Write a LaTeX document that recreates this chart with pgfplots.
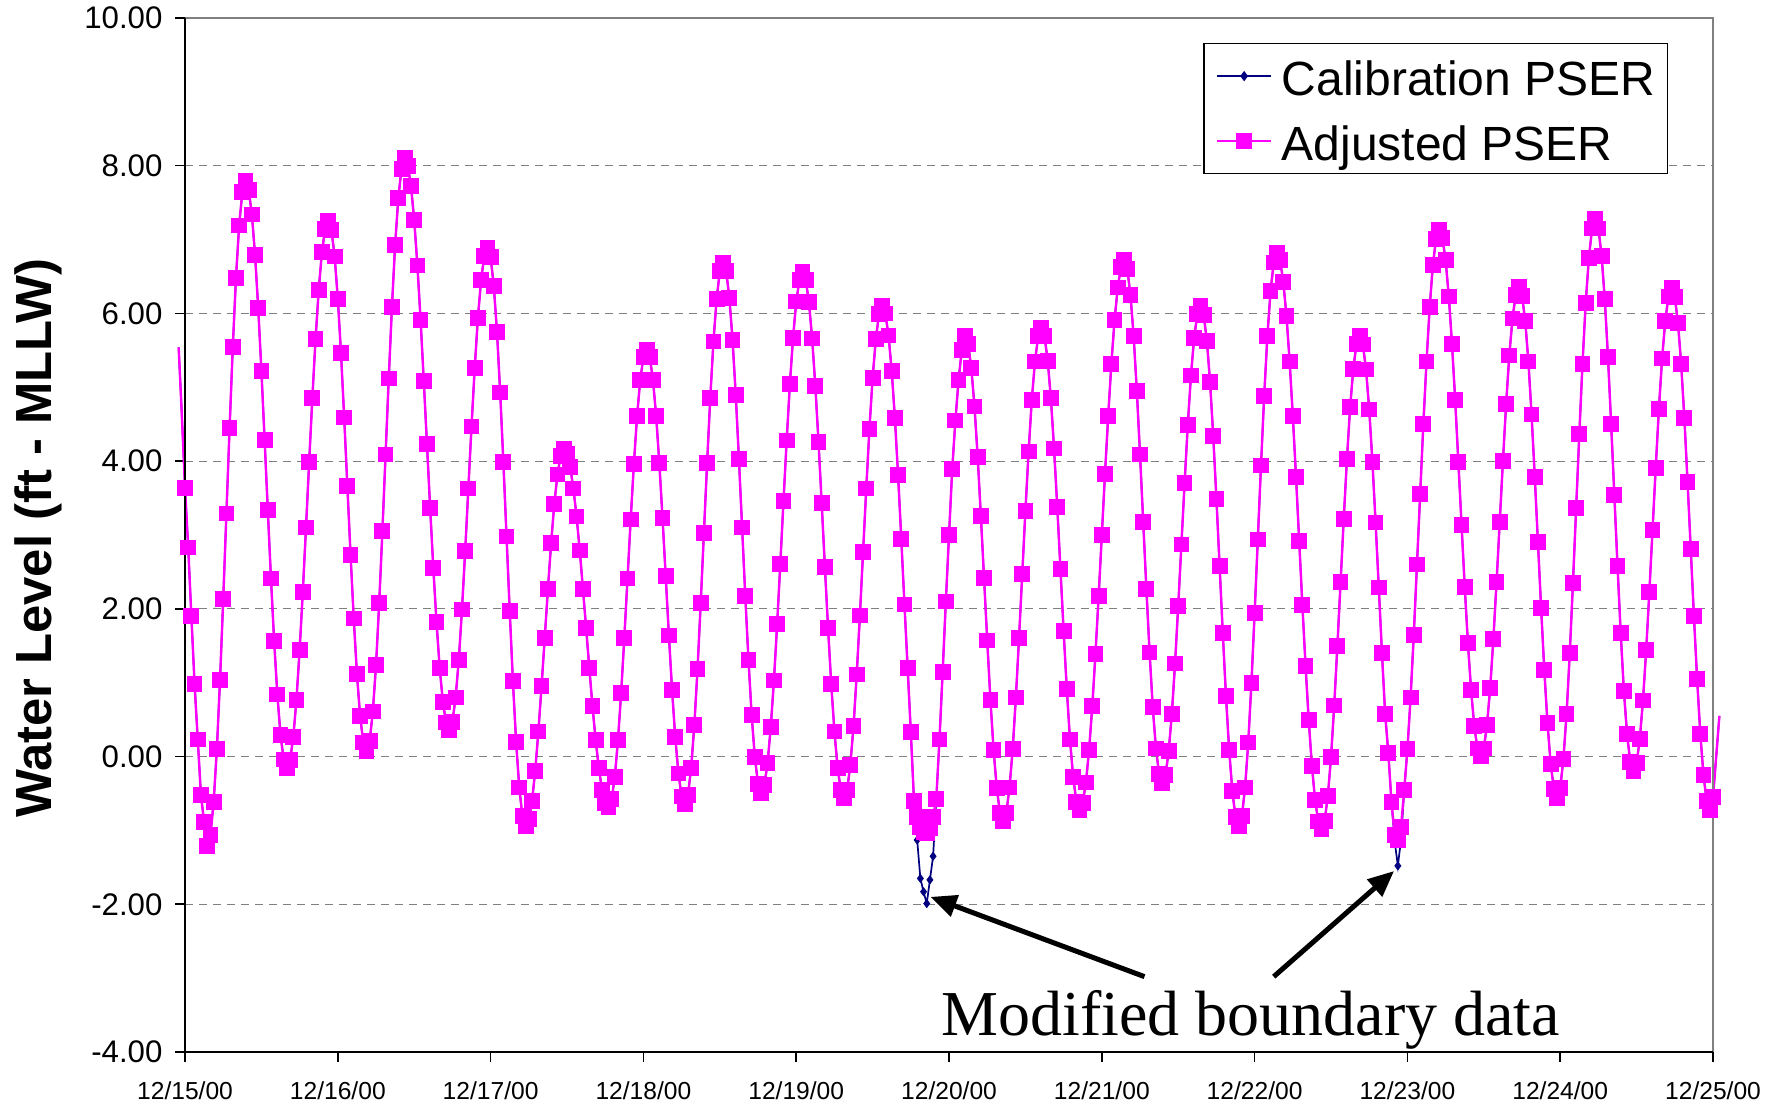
\documentclass[border=0pt]{standalone}
\usepackage{fontspec}
\setmainfont{Liberation Sans}
\newfontfamily\timesfont{Liberation Serif}
\usepackage{pgfplots}
\pgfplotsset{compat=1.18}
\usepackage{pgfplotstable}
\usetikzlibrary{arrows.meta}
\definecolor{pmag}{RGB}{255,0,255}
\definecolor{pnavy}{RGB}{0,0,128}
\pgfplotstableread{
t adj cal
-1 5.54 5.54
-0.5 4.62 4.62
0 3.64 3.64
0.5 2.83 2.83
1 1.90 1.90
1.5 0.98 0.98
2 0.23 0.23
2.5 -0.52 -0.52
3 -0.89 -0.89
3.5 -1.21 -1.21
4 -1.06 -1.06
4.5 -0.61 -0.61
5 0.10 0.10
5.5 1.04 1.04
6 2.13 2.13
6.5 3.29 3.29
7 4.45 4.45
7.5 5.54 5.54
8 6.48 6.48
8.5 7.19 7.19
9 7.64 7.64
9.5 7.79 7.79
10 7.67 7.67
10.5 7.34 7.34
11 6.79 6.79
11.5 6.07 6.07
12 5.22 5.22
12.5 4.29 4.29
13 3.34 3.34
13.5 2.41 2.41
14 1.56 1.56
14.5 0.84 0.84
15 0.29 0.29
15.5 -0.04 -0.04
16 -0.16 -0.16
16.5 -0.05 -0.05
17 0.26 0.26
17.5 0.77 0.77
18 1.44 1.44
18.5 2.23 2.23
19 3.10 3.10
19.5 3.99 3.99
20 4.86 4.86
20.5 5.65 5.65
21 6.32 6.32
21.5 6.83 6.83
22 7.14 7.14
22.5 7.25 7.25
23 7.13 7.13
23.5 6.77 6.77
24 6.20 6.20
24.5 5.46 5.46
25 4.59 4.59
25.5 3.66 3.66
26 2.73 2.73
26.5 1.87 1.87
27 1.12 1.12
27.5 0.55 0.55
28 0.19 0.19
28.5 0.07 0.07
29 0.21 0.21
29.5 0.61 0.61
30 1.24 1.24
30.5 2.08 2.08
31 3.05 3.05
31.5 4.09 4.09
32 5.12 5.12
32.5 6.09 6.09
33 6.93 6.93
33.5 7.56 7.56
34 7.96 7.96
34.5 8.10 8.10
35 8.00 8.00
35.5 7.72 7.72
36 7.26 7.26
36.5 6.65 6.65
37 5.91 5.91
37.5 5.09 5.09
38 4.23 4.23
38.5 3.37 3.37
39 2.55 2.55
39.5 1.82 1.82
40 1.20 1.20
40.5 0.74 0.74
41 0.46 0.46
41.5 0.36 0.36
42 0.47 0.47
42.5 0.80 0.80
43 1.31 1.31
43.5 1.99 1.99
44 2.78 2.78
44.5 3.63 3.63
45 4.47 4.47
45.5 5.26 5.26
46 5.94 5.94
46.5 6.45 6.45
47 6.78 6.78
47.5 6.89 6.89
48 6.76 6.76
48.5 6.37 6.37
49 5.75 5.75
49.5 4.93 4.93
50 3.99 3.99
50.5 2.98 2.98
51 1.97 1.97
51.5 1.02 1.02
52 0.20 0.20
52.5 -0.42 -0.42
53 -0.81 -0.81
53.5 -0.94 -0.94
54 -0.85 -0.85
54.5 -0.60 -0.60
55 -0.20 -0.20
55.5 0.34 0.34
56 0.95 0.95
56.5 1.61 1.61
57 2.27 2.27
57.5 2.89 2.89
58 3.42 3.42
58.5 3.82 3.82
59 4.07 4.07
59.5 4.16 4.16
60 4.10 4.10
60.5 3.92 3.92
61 3.63 3.63
61.5 3.25 3.25
62 2.79 2.79
62.5 2.27 2.27
63 1.74 1.74
63.5 1.20 1.20
64 0.68 0.68
64.5 0.22 0.22
65 -0.16 -0.16
65.5 -0.45 -0.45
66 -0.63 -0.63
66.5 -0.69 -0.69
67 -0.58 -0.58
67.5 -0.28 -0.28
68 0.22 0.22
68.5 0.86 0.86
69 1.61 1.61
69.5 2.41 2.41
70 3.21 3.21
70.5 3.96 3.96
71 4.61 4.61
71.5 5.10 5.10
72 5.41 5.41
72.5 5.51 5.51
73 5.41 5.41
73.5 5.10 5.10
74 4.61 4.61
74.5 3.97 3.97
75 3.23 3.23
75.5 2.44 2.44
76 1.64 1.64
76.5 0.90 0.90
77 0.26 0.26
77.5 -0.23 -0.23
78 -0.54 -0.54
78.5 -0.64 -0.64
79 -0.52 -0.52
79.5 -0.15 -0.15
80 0.43 0.43
80.5 1.19 1.19
81 2.08 2.08
81.5 3.03 3.03
82 3.97 3.97
82.5 4.86 4.86
83 5.62 5.62
83.5 6.20 6.20
84 6.57 6.57
84.5 6.69 6.69
85 6.57 6.57
85.5 6.21 6.21
86 5.64 5.64
86.5 4.90 4.90
87 4.03 4.03
87.5 3.10 3.10
88 2.17 2.17
88.5 1.31 1.31
89 0.56 0.56
89.5 -0.01 -0.01
90 -0.37 -0.37
90.5 -0.49 -0.49
91 -0.38 -0.38
91.5 -0.09 -0.09
92 0.40 0.40
92.5 1.03 1.03
93 1.79 1.79
93.5 2.61 2.61
94 3.46 3.46
94.5 4.28 4.28
95 5.04 5.04
95.5 5.67 5.67
96 6.16 6.16
96.5 6.45 6.45
97 6.56 6.56
97.5 6.45 6.45
98 6.15 6.15
98.5 5.66 5.66
99 5.02 5.02
99.5 4.26 4.26
100 3.43 3.43
100.5 2.57 2.57
101 1.74 1.74
101.5 0.98 0.98
102 0.34 0.34
102.5 -0.15 -0.15
103 -0.45 -0.45
103.5 -0.56 -0.56
104 -0.45 -0.45
104.5 -0.11 -0.11
105 0.41 0.41
105.5 1.11 1.11
106 1.91 1.91
106.5 2.77 2.77
107 3.63 3.63
107.5 4.44 4.44
108 5.13 5.13
108.5 5.65 5.65
109 5.99 5.99
109.5 6.10 6.10
110 6.00 6.00
110.5 5.70 5.70
111 5.22 5.22
111.5 4.58 4.58
112 3.81 3.81
112.5 2.95 2.95
113 2.06 2.06
113.5 1.20 1.20
114 0.33 0.33
114.5 -0.60 -0.60
115 -0.82 -1.13
115.5 -0.95 -1.65
116 -1.02 -1.83
116.5 -1.03 -1.99
117 -0.97 -1.67
117.5 -0.82 -1.35
118 -0.57 -0.57
118.5 0.23 0.23
119 1.15 1.15
119.5 2.10 2.10
120 3.00 3.00
120.5 3.89 3.89
121 4.55 4.55
121.5 5.10 5.10
122 5.50 5.50
122.5 5.70 5.70
123 5.59 5.59
123.5 5.26 5.26
124 4.74 4.74
124.5 4.06 4.06
125 3.26 3.26
125.5 2.42 2.42
126 1.57 1.57
126.5 0.77 0.77
127 0.09 0.09
127.5 -0.43 -0.43
128 -0.76 -0.76
128.5 -0.87 -0.87
129 -0.76 -0.76
129.5 -0.42 -0.42
130 0.10 0.10
130.5 0.80 0.80
131 1.61 1.61
131.5 2.47 2.47
132 3.33 3.33
132.5 4.13 4.13
133 4.83 4.83
133.5 5.35 5.35
134 5.69 5.69
134.5 5.80 5.80
135 5.69 5.69
135.5 5.36 5.36
136 4.85 4.85
136.5 4.17 4.17
137 3.38 3.38
137.5 2.54 2.54
138 1.70 1.70
138.5 0.91 0.91
139 0.23 0.23
139.5 -0.28 -0.28
140 -0.61 -0.61
140.5 -0.72 -0.72
141 -0.63 -0.63
141.5 -0.35 -0.35
142 0.09 0.09
142.5 0.68 0.68
143 1.39 1.39
143.5 2.17 2.17
144 3.00 3.00
144.5 3.83 3.83
145 4.61 4.61
145.5 5.32 5.32
146 5.91 5.91
146.5 6.35 6.35
147 6.63 6.63
147.5 6.72 6.72
148 6.60 6.60
148.5 6.25 6.25
149 5.69 5.69
149.5 4.95 4.95
150 4.09 4.09
150.5 3.18 3.18
151 2.27 2.27
151.5 1.41 1.41
152 0.67 0.67
152.5 0.11 0.11
153 -0.24 -0.24
153.5 -0.36 -0.36
154 -0.25 -0.25
154.5 0.07 0.07
155 0.58 0.58
155.5 1.26 1.26
156 2.04 2.04
156.5 2.87 2.87
157 3.70 3.70
157.5 4.49 4.49
158 5.16 5.16
158.5 5.67 5.67
159 5.99 5.99
159.5 6.10 6.10
160 5.98 5.98
160.5 5.63 5.63
161 5.07 5.07
161.5 4.34 4.34
162 3.49 3.49
162.5 2.58 2.58
163 1.67 1.67
163.5 0.82 0.82
164 0.09 0.09
164.5 -0.47 -0.47
165 -0.82 -0.82
165.5 -0.94 -0.94
166 -0.81 -0.81
166.5 -0.42 -0.42
167 0.19 0.19
167.5 1.00 1.00
168 1.94 1.94
168.5 2.94 2.94
169 3.94 3.94
169.5 4.88 4.88
170 5.69 5.69
170.5 6.30 6.30
171 6.69 6.69
171.5 6.82 6.82
172 6.72 6.72
172.5 6.43 6.43
173 5.97 5.97
173.5 5.35 5.35
174 4.61 4.61
174.5 3.79 3.79
175 2.92 2.92
175.5 2.05 2.05
176 1.23 1.23
176.5 0.49 0.49
177 -0.13 -0.13
177.5 -0.59 -0.59
178 -0.88 -0.88
178.5 -0.98 -0.98
179 -0.87 -0.87
179.5 -0.53 -0.53
180 -0.01 -0.01
180.5 0.69 0.69
181 1.50 1.50
181.5 2.36 2.36
182 3.22 3.22
182.5 4.03 4.03
183 4.73 4.73
183.5 5.25 5.25
184 5.59 5.59
184.5 5.70 5.70
185 5.58 5.58
185.5 5.24 5.24
186 4.70 4.70
186.5 3.99 3.99
187 3.17 3.17
187.5 2.29 2.29
188 1.40 1.40
188.5 0.58 0.58
189 0.05 0.05
189.5 -0.62 -0.62
190 -1.06 -1.15
190.5 -1.13 -1.48
191 -0.95 -1.12
191.5 -0.45 -0.45
192 0.10 0.10
192.5 0.80 0.80
193 1.65 1.65
193.5 2.60 2.60
194 3.55 3.55
194.5 4.50 4.50
195 5.35 5.35
195.5 6.09 6.09
196 6.66 6.66
196.5 7.01 7.01
197 7.13 7.13
197.5 7.02 7.02
198 6.72 6.72
198.5 6.23 6.23
199 5.59 5.59
199.5 4.83 4.83
200 3.99 3.99
200.5 3.14 3.14
201 2.30 2.30
201.5 1.54 1.54
202 0.90 0.90
202.5 0.41 0.41
203 0.11 0.11
203.5 0.00 0.00
204 0.11 0.11
204.5 0.43 0.43
205 0.93 0.93
205.5 1.59 1.59
206 2.36 2.36
206.5 3.18 3.18
207 4.00 4.00
207.5 4.77 4.77
208 5.43 5.43
208.5 5.93 5.93
209 6.25 6.25
209.5 6.36 6.36
210 6.24 6.24
210.5 5.90 5.90
211 5.35 5.35
211.5 4.63 4.63
212 3.79 3.79
212.5 2.90 2.90
213 2.01 2.01
213.5 1.17 1.17
214 0.45 0.45
214.5 -0.10 -0.10
215 -0.44 -0.44
215.5 -0.56 -0.56
216 -0.43 -0.43
216.5 -0.03 -0.03
217 0.58 0.58
217.5 1.40 1.40
218 2.35 2.35
218.5 3.36 3.36
219 4.37 4.37
219.5 5.32 5.32
220 6.14 6.14
220.5 6.75 6.75
221 7.15 7.15
221.5 7.28 7.28
222 7.15 7.15
222.5 6.78 6.78
223 6.19 6.19
223.5 5.41 5.41
224 4.50 4.50
224.5 3.54 3.54
225 2.58 2.58
225.5 1.67 1.67
226 0.89 0.89
226.5 0.30 0.30
227 -0.07 -0.07
227.5 -0.20 -0.20
228 -0.09 -0.09
228.5 0.24 0.24
229 0.76 0.76
229.5 1.44 1.44
230 2.23 2.23
230.5 3.07 3.07
231 3.91 3.91
231.5 4.71 4.71
232 5.39 5.39
232.5 5.90 5.90
233 6.23 6.23
233.5 6.34 6.34
234 6.22 6.22
234.5 5.87 5.87
235 5.31 5.31
235.5 4.58 4.58
236 3.72 3.72
236.5 2.81 2.81
237 1.90 1.90
237.5 1.05 1.05
238 0.31 0.31
238.5 -0.25 -0.25
239 -0.60 -0.60
239.5 -0.72 -0.72
240 -0.55 -0.55
240.5 0.00 0.00
241 0.55 0.55
}\tidedata
\begin{document}
\begin{tikzpicture}
\begin{axis}[
  width=764bp, height=517bp, scale only axis,
  xmin=0, xmax=240, ymin=-4, ymax=10,
  clip=false,
  axis line style={draw=none},
  xtick={0,24,...,240},
  xticklabels={12/15/00,12/16/00,12/17/00,12/18/00,12/19/00,12/20/00,12/21/00,12/22/00,12/23/00,12/24/00,12/25/00},
  ytick={-4,-2,...,10},
  yticklabel={\pgfmathprintnumber[fixed,fixed zerofill,precision=2,assume math mode=true]{\tick}},
  tick align=outside, major tick length=5bp,
  xtick pos=bottom, ytick pos=left,
  tick style={black, line width=0.8bp},
  ymajorgrids, grid style={gray, line width=0.6bp, dash pattern=on 4bp off 3bp},
  x tick label style={font=\fontsize{12.3bp}{14bp}\selectfont, yshift=-6.2bp},
  y tick label style={font=\fontsize{15.6bp}{18bp}\selectfont, xshift=-2.8bp},
  ylabel={Water Level (ft - MLLW)},
  ylabel style={font=\bfseries\fontsize{25.4bp}{29bp}\selectfont, at={(axis description cs:-0.096,0.497)}, anchor=center},
  legend cell align=left,
  legend image code/.code={\draw[mark repeat=2,mark phase=2] plot coordinates {(0bp,0bp) (13.5bp,0bp) (27bp,0bp)};},
  legend style={at={(0.9705,0.9758)}, anchor=north east, draw=black, line width=0.6bp, fill=white,
    font=\fontsize{24bp}{28bp}\selectfont, inner xsep=6bp, inner ysep=4bp, row sep=8bp,
    nodes={inner sep=0pt, text height=22bp, text depth=2.5bp},
    /tikz/every odd column/.append style={column sep=4.8bp}},
]
\addlegendimage{pnavy, line width=0.85bp, mark=diamond*, mark size=1.9bp, mark options={solid, fill=pnavy}}
\addlegendentry{Calibration PSER}
\addlegendimage{pmag, line width=1.1bp, mark=square*, mark size=3.3bp, mark options={solid, fill=pmag}}
\addlegendentry{Adjusted PSER}
\addplot[pnavy, line width=0.85bp, forget plot] table[x=t, y=cal] {\tidedata};
\addplot[pnavy, only marks, mark=diamond*, mark size=2bp, mark options={fill=pnavy, draw=pnavy},
  restrict x to domain=0:240, forget plot] table[x=t, y=cal] {\tidedata};
\addplot[pmag, line width=1.2bp, forget plot] table[x=t, y=adj] {\tidedata};
\addplot[pmag, only marks, mark=square*, mark size=3.7bp, mark options={fill=pmag, draw=pmag, line width=0bp},
  restrict x to domain=0:240, forget plot] table[x=t, y=adj] {\tidedata};
\draw[gray, line width=1bp] (rel axis cs:0,1) -- (rel axis cs:1,1) -- (rel axis cs:1,0);
\draw[black, line width=1bp] (rel axis cs:0,1) -- (rel axis cs:0,0) -- (rel axis cs:1,0);
\node[font=\timesfont\fontsize{32bp}{38bp}\selectfont, anchor=base] at (axis cs:167.4,-3.78) {Modified boundary data};
\draw[line width=2.5bp, -{Triangle[length=13bp,width=11bp]}] (axis cs:150.7,-2.98) -- (axis cs:117.1,-1.90);
\draw[line width=2.5bp, -{Triangle[length=13bp,width=11bp]}] (axis cs:171.0,-2.98) -- (axis cs:189.9,-1.55);
\coordinate (bbll) at (rel axis cs:-0.1211,-0.0484);
\coordinate (bbur) at (rel axis cs:1.0445,1.0174);
\end{axis}
\pgfresetboundingbox
\path (bbll) rectangle (bbur);
\end{tikzpicture}
\end{document}
